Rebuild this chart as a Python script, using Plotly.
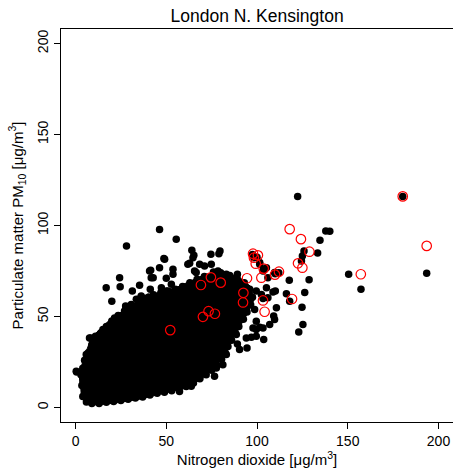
import plotly.graph_objects as go

# Dense core of the cloud (thousands of overlapping hourly points) – outline, data units
core_no2 = [2.5, 2.0, 5.5, 8.8, 18.7, 28.1, 37.0, 46.3, 55.7, 64.5, 71.1, 80.5, 90.4, 96.5,
            98.5, 95.5, 90.0, 86.0, 82.0, 77.0, 68.0, 60.5, 46.3, 35.3, 21.5, 12.1, 6.0, 3.0]
core_pm10 = [11.6, 18.7, 29.8, 38.6, 48.0, 54.6, 60.5, 63.3, 66.0, 70.0, 73.0, 75.0, 71.5, 66.5,
             59.6, 52.9, 43.6, 36.4, 29.2, 21.5, 14.8, 10.5, 7.2, 4.5, 2.4, 1.4, 1.9, 5.5]

# Observations along the edge of the dense core
edge_no2 = [3.5, 3.0, 4.0, 6.0, 9.0, 13.0, 17.0, 21.0, 25.0, 29.0, 33.0, 37.0, 41.0, 45.0, 49.0,
            53.0, 57.0, 61.0, 65.0, 68.5, 72.0, 75.0, 78.0, 80.5, 82.5, 84.0, 86.0, 88.0, 90.0,
            92.5, 94.5, 96.5, 97.5, 96.0, 93.0, 89.0, 85.0, 80.0, 76.0,
            4.0, 5.0, 7.0, 9.0, 11.0, 14.0, 17.0, 20.0, 23.5, 27.0, 31.0, 35.0, 39.0, 43.0, 47.0,
            51.0, 55.0, 59.0, 63.0, 67.0, 71.0]
edge_pm10 = [12.0, 18.0, 6.0, 3.0, 2.2, 2.2, 2.8, 3.3, 3.8, 4.5, 5.2, 5.8, 6.8, 7.8, 8.3,
             9.2, 10.3, 11.5, 13.5, 15.8, 18.0, 20.5, 23.0, 26.5, 30.0, 33.5, 37.0, 41.0, 44.5,
             48.5, 52.5, 56.5, 60.5, 65.0, 68.5, 71.0, 72.5, 74.0, 74.5,
             21.5, 26.0, 30.0, 34.5, 37.5, 41.0, 44.5, 47.5, 50.5, 53.0, 55.5, 58.0, 60.0, 62.0, 63.0,
             64.0, 65.0, 66.5, 68.5, 70.5, 72.0]

# Individual hourly observations outside the dense core
obs_no2 = [122.4, 180.3, 137.9, 140.1, 134.7, 133.4, 125.9, 125.0, 124.5, 128.7, 117.8, 150.5,
           157.3, 193.5, 126.3, 116.2, 110.1, 108.8, 103.3, 106.0, 109.7, 103.7,
           46.3, 55.5, 64.1, 65.2, 74.6, 79.6, 79.0, 48.7, 62.9, 68.4, 71.1, 74.8, 46.3, 53.7,
           41.4, 78.5, 83.1, 89.2, 98.3, 101.5, 103.3, 105.2, 106.0, 124.8, 125.3, 123.0,
           118.0, 110.7, 109.2, 109.7, 107.0, 103.7, 99.6, 96.9, 94.1, 94.5, 90.4, 89.2, 83.1,
           81.2, 77.6, 76.6, 68.4,
           28.1, 24.3, 24.6, 16.9, 20.0, 31.3, 35.3, 40.8, 41.7, 41.2, 49.1, 50.0, 52.8, 47.3,
           50.0, 64.7, 61.9, 65.6, 7.7, 9.5, 5.9, 0.4, 21.5, 19.7, 15.1, 28.0, 30.7, 33.5, 36.2,
           57.3, 63.8, 88.6, 97.8, 101.5, 99.6, 42.8, 45.0, 40.4, 27.6, 34.9, 8.3, 11.0, 15.6,
           21.1, 23.9, 10.1, 12.8, 7.3, 0.6, 101.5, 97.5, 100.0, 110.0, 112.0, 53.7, 66.5,
           99.6, 102.4, 105.2, 95.9, 98.7, 99.6, 103.3]
obs_pm10 = [116.0, 116.0, 97.0, 96.9, 91.9, 84.9, 86.0, 83.3, 80.5, 70.2, 69.9, 73.2,
            64.9, 73.7, 63.2, 62.5, 64.0, 63.4, 59.9, 60.3, 74.1, 75.9,
            97.8, 92.5, 86.4, 83.6, 84.2, 86.0, 84.5, 81.8, 79.2, 78.7, 77.8, 78.7, 76.8, 75.9,
            75.4, 75.0, 73.2, 73.2, 82.3, 78.7, 75.0, 76.8, 71.3, 55.1, 45.6, 41.5,
            58.4, 54.8, 50.2, 48.4, 45.6, 37.3, 42.8, 38.6, 38.2, 32.7, 31.8, 34.9, 29.1,
            23.5, 21.7, 17.1, 16.2,
            88.8, 71.3, 66.3, 65.8, 58.4, 64.0, 67.1, 75.0, 71.3, 64.9, 81.4, 71.0, 67.7, 65.8,
            64.0, 82.3, 78.7, 75.0, 38.2, 32.7, 29.1, 19.9, 49.2, 45.6, 42.8, 54.8, 56.6, 59.4, 61.2,
            8.8, 11.6, 40.1, 43.7, 44.1, 39.1, 71.3, 60.3, 60.7, 55.7, 59.4, 38.2, 39.1, 40.1,
            42.8, 44.7, 32.7, 33.6, 29.1, 19.5, 79.6, 84.0, 82.5, 73.5, 74.0, 73.2, 74.1,
            64.0, 62.1, 65.8, 58.4, 53.9, 47.4, 43.7]

# Highlighted observations (red open circles)
hi_no2 = [52.2, 70.2, 73.3, 76.8, 69.1, 74.6, 80.0, 92.5, 92.3, 94.5, 97.8, 100.5, 98.3, 99.3,
          103.7, 102.4, 103.3, 104.2, 109.9, 112.1, 119.3, 118.0, 124.2, 128.9, 122.6, 125.0,
          157.2, 193.5, 180.3]
hi_pm10 = [42.5, 49.8, 52.9, 51.5, 67.3, 71.5, 68.6, 63.0, 57.7, 71.0, 84.5, 83.6, 82.3, 79.0,
           76.3, 71.3, 58.8, 52.6, 73.0, 74.6, 59.6, 98.0, 92.5, 85.6, 79.2, 76.8,
           73.2, 88.8, 116.0]

tick_vals = [0, 50, 100, 150, 200]

fig = go.Figure()
fig.add_trace(go.Scatter(x=core_no2, y=core_pm10, mode="lines", fill="toself",
                         fillcolor="black", line=dict(color="black", width=1),
                         hoverinfo="skip", showlegend=False))
fig.add_trace(go.Scatter(x=edge_no2 + obs_no2, y=edge_pm10 + obs_pm10, mode="markers",
                         marker=dict(color="black", size=7.5, line=dict(width=0)),
                         showlegend=False))
fig.add_trace(go.Scatter(x=hi_no2, y=hi_pm10, mode="markers",
                         marker=dict(symbol="circle-open", color="red", size=9.5,
                                     line=dict(width=1.2, color="red")),
                         showlegend=False))

axis_common = dict(range=[-8, 208], tickvals=tick_vals, ticktext=[str(v) for v in tick_vals],
                   showgrid=False, zeroline=False, showline=True, mirror=True,
                   linecolor="black", linewidth=1, ticks="outside", ticklen=6,
                   tickcolor="black", tickwidth=1,
                   tickfont=dict(family="Liberation Sans, Arial", size=14, color="black"))

fig.update_layout(
    width=453, height=468,
    margin=dict(l=61, r=0, t=29, b=46),
    paper_bgcolor="white", plot_bgcolor="white",
    font=dict(family="Liberation Sans, Arial", color="black"),
    title=dict(text="London N. Kensington", x=0.5675, xanchor="center",
               y=1 - 16 / 468, yanchor="middle", yref="container",
               font=dict(size=17.5, color="black")),
    xaxis=dict(**axis_common,
               title=dict(text="Nitrogen dioxide [μg/m<sup>3</sup>]",
                          font=dict(size=15), standoff=0)),
    yaxis=dict(**axis_common, tickangle=-90,
               title=dict(text="Particulate matter PM<sub>10</sub> [μg/m<sup>3</sup>]",
                          font=dict(size=15), standoff=8)),
)

fig.write_html("out.html")
